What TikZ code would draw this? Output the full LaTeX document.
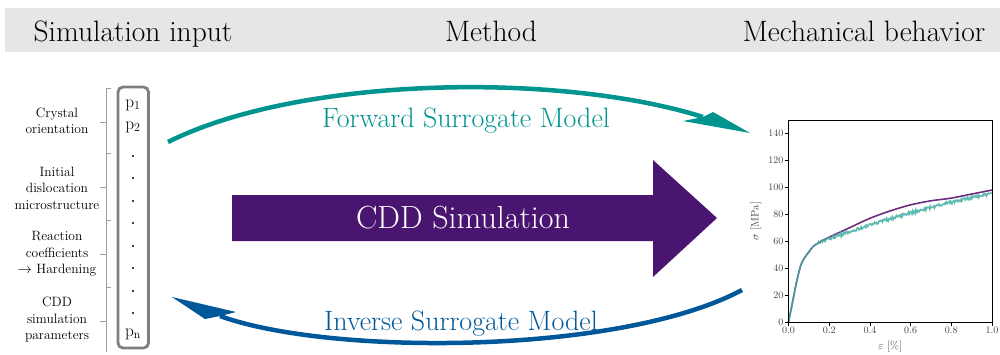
\documentclass[tikz,border=0pt]{standalone}
\usetikzlibrary{arrows.meta}
\definecolor{fwd}{HTML}{00948F}
\definecolor{inv}{HTML}{00589A}
\definecolor{cdd}{HTML}{4A1570}
\definecolor{hdr}{HTML}{E6E6E6}
\definecolor{purp}{HTML}{6B2D7E}
\definecolor{tealc}{HTML}{45ADA4}
\definecolor{boxg}{HTML}{7F7F7F}
\definecolor{brkg}{HTML}{A0A0A0}
\begin{document}
\begin{tikzpicture}[x=1pt,y=-1pt,
  hdrtxt/.style={font=\fontsize{29.5}{34}\selectfont, anchor=base, inner sep=0},
  sidelbl/.style={font=\fontsize{13.5}{16.5}\selectfont, align=center, inner sep=0},
  param/.style={font=\fontsize{18}{20}\selectfont, inner sep=0},
  pdot/.style={circle, fill=black, inner sep=0, minimum size=2.2pt},
  brk/.style={draw=brkg, line width=0.9pt},
  arctxt/.style={font=\fontsize{28}{32}\selectfont, anchor=base, inner sep=0},
  ticklbl/.style={font=\fontsize{10}{12}\selectfont, text=black!75, inner sep=0},
  axlbl/.style={font=\fontsize{11}{13}\selectfont, text=black!75, inner sep=0},
]
\useasboundingbox (0,0) rectangle (1000,354);
% header band
\fill[hdr] (5,8) rectangle (1000,52);
\node[hdrtxt] (hin) at (133,41) {Simulation input};
\node[hdrtxt] (hme) at (491,41) {Method};
\node[hdrtxt] (hmb) at (864,41) {Mechanical behavior};

% side labels
\node[sidelbl] (l1) at (57,121) {Crystal\\orientation};
\node[sidelbl] (l2) at (57,188) {Initial\\dislocation\\microstructure};
\node[sidelbl] (l3) at (57,254) {Reaction\\coefficients\\$\rightarrow$ Hardening};
\node[sidelbl] (l4) at (57,320) {CDD\\simulation\\parameters};

% bracket
\draw[brk] (111,88) -- (106,88) -- (106,352);
\foreach \yb in {153,220,287} \draw[brk] (106,\yb) -- (111,\yb);
\foreach \ym in {122,187,254,321} \draw[brk] (106,\ym) -- (100,\ym);

% parameter box
\draw[draw=boxg, line width=2.8pt, rounded corners=5pt] (118,87) rectangle (148.5,348);
\node[param] (p1) at (133,105) {$\mathrm{p}_1$};
\node[param] (p2) at (133,127) {$\mathrm{p}_2$};
\foreach \i/\yy in {1/156,2/178,3/201,4/223,5/246,6/268,7/291,8/313}
  \node[pdot] (d\i) at (133,\yy) {};
\node[param] (pn) at (133,334) {$\mathrm{p}_\mathrm{n}$};

% big CDD arrow
\fill[cdd] (232,195) -- (653,195) -- (653,160) -- (717,218) -- (653,277) -- (653,241) -- (232,241) -- cycle;
\node[font=\fontsize{32}{36}\selectfont, text=white, inner sep=0] (cddtxt) at (463,218) {CDD Simulation};

% forward arc
\coordinate (fs) at (168,142);
\coordinate (fe) at (703,117);
\draw[fwd, line width=4.5pt] (fs) .. controls (300,76) and (560,72) .. (fe);
\fill[fwd] (750,133) -- (713,112) -- (fe) -- (683,121) -- cycle;
\node[arctxt, text=fwd] (ftxt) at (466,127) {Forward Surrogate Model};

% inverse arc
\coordinate (is) at (742,290);
\coordinate (ie) at (220,316);
\draw[inv, line width=4.5pt] (is) .. controls (620,355) and (330,356) .. (ie);
\fill[inv] (172,297) -- (236,312) -- (ie) -- (205,319) -- cycle;
\node[arctxt, text=inv] (itxt) at (461,330) {Inverse Surrogate Model};

% plot
\begin{scope}[shift={(788.5,322)}, x=203.5pt, y=1.3467pt]
  \draw[purp, line width=1.6pt] plot[smooth] coordinates {(0,0) (0.02,15) (0.04,30) (0.06,42) (0.08,48) (0.1,52) (0.12,56) (0.15,59) (0.2,63) (0.3,70) (0.4,77) (0.5,82.5) (0.6,87) (0.7,90) (0.8,92) (0.9,95) (1.0,98)};
  \pgfmathsetseed{7}
  \draw[tealc, line width=1.6pt, opacity=0.85] plot[smooth] coordinates {(0,0) (0.02,15) (0.04,30) (0.06,42) (0.08,48) (0.1,52) (0.12,56) (0.15,59)} -- plot[domain=0.15:1, samples=260] (\x,{50.33+60.04*\x-14.87*\x*\x+1.1*rand});
  \draw[line width=0.8pt] (0,0) rectangle (1,150);
  \foreach \v in {0,20,...,140} {
    \draw[line width=0.6pt] (0,\v) -- ++(-3.5pt,0);
    \node[ticklbl, anchor=east] at ([xshift=-5pt]0,\v) {\v};
  }
  \foreach \v/\l in {0/0.0,0.2/0.2,0.4/0.4,0.6/0.6,0.8/0.8,1/1.0} {
    \draw[line width=0.6pt] (\v,0) -- ++(0,-3.5pt);
    \node[ticklbl, anchor=north] at ([yshift=-5pt]\v,0) {\l};
  }
  \node[axlbl, rotate=90] (ylab) at (-0.16,75) {$\sigma$ [MPa]};
  \node[axlbl] (xlab) at (0.5,-18.5) {$\varepsilon$ [\%]};
\end{scope}
\end{tikzpicture}
\end{document}
